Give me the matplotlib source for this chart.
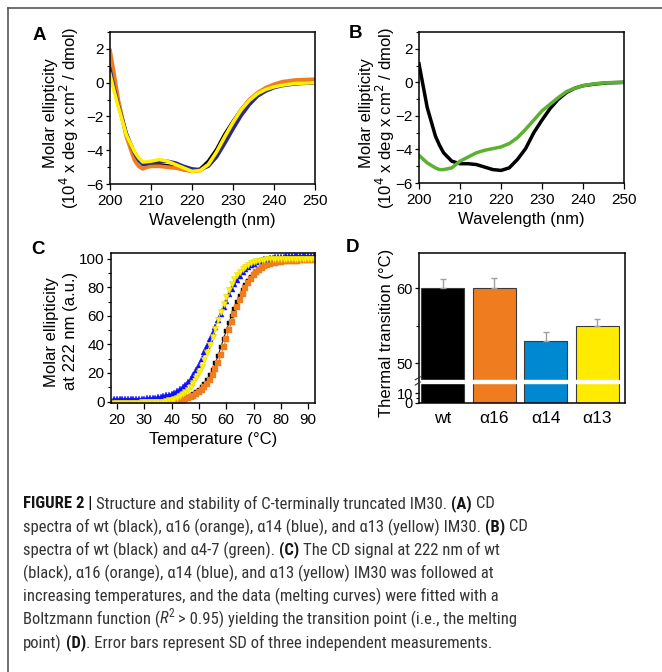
import numpy as np
import matplotlib
matplotlib.use('Agg')
import matplotlib.pyplot as plt
from matplotlib import font_manager
from matplotlib.font_manager import FontProperties
from matplotlib.ticker import MultipleLocator, FixedLocator

plt.rcParams['font.family'] = ['Liberation Sans', 'DejaVu Sans']

# ---- panel A: CD spectra ----
wl_a = [200, 201, 202, 204, 206, 207, 208, 209, 210, 212, 214, 216, 218, 220,
        222, 224, 226, 228, 230, 232, 234, 236, 238, 240, 242, 245, 250]
cd_wt = [1.0, 0.0, -1.2, -3.1, -4.2, -4.55, -4.75, -4.82, -4.85, -4.87, -4.92,
         -5.02, -5.15, -5.22, -5.12, -4.65, -3.95, -3.05, -2.3, -1.6, -1.05,
         -0.65, -0.38, -0.22, -0.13, -0.05, 0.0]
cd_a16 = [1.9, 0.5, -1.0, -3.2, -4.6, -4.95, -5.1, -5.0, -4.95, -4.95, -5.0,
          -5.05, -5.15, -5.25, -5.2, -4.85, -4.15, -3.25, -2.4, -1.6, -1.0,
          -0.6, -0.3, -0.1, 0.05, 0.15, 0.2]
cd_a14 = [0.8, -0.3, -1.3, -3.0, -4.2, -4.6, -4.85, -4.8, -4.75, -4.7, -4.65,
          -4.75, -4.95, -5.1, -5.15, -4.95, -4.4, -3.6, -2.75, -1.95, -1.3,
          -0.8, -0.5, -0.3, -0.18, -0.08, 0.0]
cd_a13 = [0.5, -0.5, -1.4, -3.1, -4.1, -4.45, -4.7, -4.68, -4.65, -4.55, -4.65,
          -4.85, -5.05, -5.25, -5.2, -4.85, -4.1, -3.2, -2.35, -1.6, -1.05,
          -0.65, -0.4, -0.25, -0.15, -0.05, 0.0]

# ---- panel B ----
wl_b = [200, 202, 204, 205, 206, 208, 210, 212, 214, 216, 218, 220, 222, 224,
        226, 228, 230, 232, 234, 236, 238, 240, 243, 246, 250]
cd_wt_b = [1.1, -1.5, -3.2, -3.75, -4.2, -4.7, -4.85, -4.85, -4.9, -5.05, -5.2,
           -5.25, -5.1, -4.6, -3.95, -3.0, -2.25, -1.55, -1.0, -0.6, -0.35,
           -0.2, -0.1, -0.03, 0.0]
cd_a47 = [-4.35, -4.8, -5.1, -5.2, -5.2, -5.1, -4.7, -4.45, -4.2, -4.05, -3.95,
          -3.85, -3.65, -3.3, -2.8, -2.25, -1.7, -1.3, -0.9, -0.55, -0.35,
          -0.2, -0.08, -0.02, 0.0]

# ---- panel C: melting curves (19..92 degC, 1 degC steps) ----
temp = list(range(19, 93))
melt_wt = [0, 0, 0, 0, 0, 0, 0, 0, 0, 0,
           0, 0, 0, 0, 0.1, 0.1, 0.1, 0.1, 0.2, 0.2,
           0.3, 0.4, 0.5, 0.8, 1.2, 1.7, 2.3, 3.1, 4, 5.2,
           6.5, 8.1, 10, 12.3, 15, 18.3, 22, 26.8, 32, 38,
           44, 49.5, 55, 60, 65, 69.8, 74, 78, 81.5, 84.4,
           87, 89.2, 91, 92.6, 94, 95.1, 96, 96.7, 97.3, 97.7,
           98, 98.3, 98.5, 98.7, 98.8, 98.9, 99, 99.05, 99.1, 99.15,
           99.2, 99.25, 99.3, 99.3]
melt_a16 = [0, 0, 0, 0, 0, 0, 0, 0, 0, 0,
            0, 0, 0, 0, 0, 0, 0, 0, 0, 0.05,
            0.1, 0.2, 0.3, 0.5, 0.8, 1.2, 1.6, 2.2, 3, 4,
            5, 6.4, 8, 10.1, 12.5, 15.3, 18.5, 22.5, 27, 32.3,
            38, 44, 50, 55.8, 61, 66.2, 71, 75.5, 79.5, 83,
            86, 88.4, 90.5, 92.1, 93.5, 94.6, 95.5, 96.2, 96.8, 97.2,
            97.6, 97.9, 98.1, 98.3, 98.4, 98.5, 98.6, 98.7, 98.8, 98.85,
            98.9, 98.95, 99, 99]
melt_a14 = [1.5, 1.5, 1.5, 1.55, 1.6, 1.65, 1.7, 1.75, 1.8, 1.9,
            2.0, 2.1, 2.2, 2.4, 2.6, 2.85, 3.1, 3.4, 3.8, 4.3,
            4.8, 5.5, 6.3, 7.3, 8.5, 9.9, 11.5, 13.6, 16, 18.8,
            22, 25.8, 30, 34.5, 39, 43.5, 48, 52.5, 57, 61.5,
            66, 70.6, 75, 78.6, 82, 85.2, 88, 90.4, 92.5, 94.1,
            95.5, 96.6, 97.5, 98.3, 99, 99.5, 100, 100.4, 100.8, 101,
            101.2, 101.4, 101.5, 101.6, 101.7, 101.75, 101.8, 101.85, 101.9, 101.95,
            102, 102, 102, 102]
melt_a13 = [-0.8, -0.8, -0.8, -0.8, -0.8, -0.75, -0.7, -0.7, -0.7, -0.65,
            -0.6, -0.55, -0.5, -0.45, -0.4, -0.3, -0.2, -0.1, 0, 0.4,
            0.8, 1.4, 2, 2.8, 3.8, 5, 6.5, 8.3, 10.5, 13.3,
            16.5, 20.3, 24.5, 29, 34, 39.5, 45, 51, 57, 62.7,
            68, 73.2, 78, 82, 85.5, 88.5, 91, 93, 94.5, 95.8,
            96.8, 97.6, 98.2, 98.6, 99, 99.3, 99.5, 99.7, 99.8, 99.85,
            99.9, 99.95, 100, 100, 100, 100, 100, 100, 100, 100,
            100, 100, 100, 100]

# ---- panel D: transition temperatures ----
constructs = ['wt', 'α16', 'α14', 'α13']
tm = [60.0, 60.0, 53.0, 55.0]
tm_sd = [1.2, 1.3, 1.1, 0.9]

BLACK = '#000000'
ORANGE = '#EF7D1F'
NAVY = '#2E2A8C'
YELLOW = '#FFF200'
GREEN = '#5DB131'
BLUE_C = '#1010FF'
BLUE_D = '#0088D1'
YELLOW_D = '#FFEB00'

fig = plt.figure(figsize=(6.62, 6.72), dpi=100)
W, H = 662.0, 672.0
renderer = fig.canvas.get_renderer()


def ax_at(left, top, right, bottom):
    return fig.add_axes([left / W, 1 - bottom / H, (right - left) / W, (bottom - top) / H])


def style_axes(ax):
    for s in ax.spines.values():
        s.set_linewidth(1.1)
    ax.tick_params(labelsize=11, width=0.9)
    ax.tick_params(axis='x', length=4, pad=3.5)
    ax.tick_params(axis='y', length=3, pad=1.5)
    ax.tick_params(which='minor', length=2, width=0.8)


def ylabel_px(ax, left_px, lines):
    # lines: (text, x in pixels, vertical position as axes fraction)
    for s, xp, yf in lines:
        x_ax = (xp - left_px) / (ax.get_position().width * W)
        ax.text(x_ax, yf, s, transform=ax.transAxes, rotation=90,
                ha='center', va='center', fontsize=12)


def cd_axes(ax):
    ax.set_xlim(200, 250)
    ax.set_ylim(-6, 3)
    ax.xaxis.set_major_locator(MultipleLocator(10))
    ax.yaxis.set_major_locator(FixedLocator([-6, -4, -2, 0, 2]))
    ax.yaxis.set_minor_locator(MultipleLocator(1))
    ax.set_xlabel('Wavelength (nm)', fontsize=12, labelpad=3)
    style_axes(ax)


# A
axA = ax_at(110, 32, 315, 184)
axA.plot(wl_a, cd_wt, color=BLACK, lw=2.5)
axA.plot(wl_a, cd_a16, color=ORANGE, lw=2.8)
axA.plot(wl_a, cd_a14, color=NAVY, lw=2.5)
axA.plot(wl_a, cd_a13, color=YELLOW, lw=2.5)
cd_axes(axA)
ylabel_px(axA, 110, [('Molar ellipticity', 50.5, 0.465),
                     ('(10$^4$ x deg x cm$^2$ / dmol)', 69, 0.43)])

# B
axB = ax_at(419, 32, 624, 183)
axB.plot(wl_b, cd_wt_b, color=BLACK, lw=2.5)
axB.plot(wl_b, cd_a47, color=GREEN, lw=2.5)
cd_axes(axB)
ylabel_px(axB, 419, [('Molar ellipticity', 366.5, 0.465),
                     ('(10$^4$ x deg x cm$^2$ / dmol)', 385, 0.43)])

# C
axC = ax_at(111, 253, 315, 403)
axC.plot(temp, melt_wt, color=BLACK, lw=0.7, marker='s', ms=3.4, mec=BLACK, mew=0.3)
axC.plot(temp, melt_a16, color=ORANGE, lw=0.7, marker='s', ms=3.8, mec=ORANGE, mew=0.3)
axC.plot(temp, melt_a14, color=BLUE_C, lw=0.7, marker='^', ms=4.0, mec=BLUE_C, mew=0.3)
axC.plot(temp, melt_a13, color=YELLOW, lw=0.7, marker='v', ms=4.0, mec='#E8D800', mew=0.4)
axC.set_xlim(17.8, 92.5)
axC.set_ylim(-1, 104)
axC.xaxis.set_major_locator(MultipleLocator(10))
axC.yaxis.set_major_locator(MultipleLocator(20))
axC.yaxis.set_minor_locator(MultipleLocator(10))
axC.set_xlabel('Temperature (°C)', fontsize=12, labelpad=3)
style_axes(axC)
ylabel_px(axC, 111, [('Molar ellipticity', 51.5, 0.475),
                     ('at 222 nm (a.u.)', 70, 0.48)])

# D with broken y axis (piecewise linear scale)
brk_v = [-100, 0, 20, 47.7, 200]
brk_s = [-100, 0, 20, 23, 23 + 152.3 * 7.6]


def fwd(v):
    return np.interp(v, brk_v, brk_s)


def inv(s):
    return np.interp(s, brk_s, brk_v)


axD = ax_at(419, 253, 625, 403)
axD.set_yscale('function', functions=(fwd, inv))
xpos = np.arange(len(constructs))
axD.bar(xpos, tm, width=0.83, color=[BLACK, ORANGE, BLUE_D, YELLOW_D],
        edgecolor='#3a3a3a', linewidth=0.8, zorder=1)
axD.errorbar(xpos, tm, yerr=[[0] * len(tm), tm_sd], fmt='none',
             ecolor='#a0a0a0', elinewidth=1.0, capsize=2, capthick=1.0, zorder=1.5)
axD.axhspan(20.6, 47.2, color='white', zorder=2)
axD.set_xlim(-0.46, 3.54)
axD.set_ylim(0, 64.7)
axD.yaxis.set_major_locator(FixedLocator([0, 10, 50, 60]))
axD.yaxis.set_minor_locator(FixedLocator([5, 55]))
axD.yaxis.set_minor_formatter(plt.NullFormatter())
axD.set_xticks(xpos)
axD.set_xticklabels(constructs)
style_axes(axD)
axD.tick_params(axis='y', labelsize=10.5)
axD.tick_params(axis='x', length=0, pad=6, labelsize=12.5)
ylabel_px(axD, 419, [('Thermal transition (°C)', 387, 0.47)])
for yy in (0.165, 0.13):
    axD.plot([-0.018, 0.006], [yy - 0.01, yy + 0.01], transform=axD.transAxes,
             color='#333333', lw=0.8, clip_on=False, zorder=5)

# panel letters
for lab, (px, py) in zip('ABCD', [(39, 35), (356, 34), (38, 249), (353, 248)]):
    fig.text(px / W, 1 - py / H, lab, fontsize=13.5, fontweight='bold',
             ha='center', va='center')

# outer frame
fig.add_artist(plt.Line2D([8 / W, 8 / W], [0, 1 - 8 / H], color='#555555', lw=1.2))
fig.add_artist(plt.Line2D([8 / W, 1], [1 - 8 / H, 1 - 8 / H], color='#555555', lw=1.2))

# ---- caption ----
caption = [
    [('FIGURE 2 |', 'bold'), (' Structure and stability of C-terminally truncated IM30. ', 'normal'),
     ('(A)', 'bold'), (' CD', 'normal')],
    [('spectra of wt (black), α16 (orange), α14 (blue), and α13 (yellow) IM30. ', 'normal'),
     ('(B)', 'bold'), (' CD', 'normal')],
    [('spectra of wt (black) and α4-7 (green). ', 'normal'), ('(C)', 'bold'),
     (' The CD signal at 222 nm of wt', 'normal')],
    [('(black), α16 (orange), α14 (blue), and α13 (yellow) IM30 was followed at', 'normal')],
    [('increasing temperatures, and the data (melting curves) were fitted with a', 'normal')],
    [('Boltzmann function (', 'normal'), ('R', 'italic'), ('2', 'sup'),
     (' > 0.95) yielding the transition point (i.e., the melting', 'normal')],
    [('point) ', 'normal'), ('(D)', 'bold'),
     ('. Error bars represent SD of three independent measurements.', 'normal')],
]
line2_plain = ''.join(s for s, k in caption[1])
TARGET_W = 504.0   # pixel width of caption line 2 in the reference
EM_SIZE = 11.8     # point size that gives the reference cap height


def text_width(s, fp):
    t1 = fig.text(0, 0, '|' + s + '|', fontproperties=fp)
    t2 = fig.text(0, 0, '||', fontproperties=fp)
    w = t1.get_window_extent(renderer).width - t2.get_window_extent(renderer).width
    t1.remove()
    t2.remove()
    return w


def weight_num(w):
    if isinstance(w, str):
        return font_manager.weight_dict.get(w, 400)
    return int(w)


prefixes = ('Noto Sans', 'Roboto', 'Open Sans', 'DejaVu Sans', 'Liberation Sans', 'Inter')
banned = ('CJK', 'Mono', 'Math', 'Symbol', 'Emoji', 'Serif', 'Display', 'Arabic',
          'Hebrew', 'Thai', 'Devanagari', 'Armenian', 'Georgian', 'Ethiopic')
entries = [e for e in font_manager.fontManager.ttflist
           if e.name.startswith(prefixes) and not any(b in e.name for b in banned)
           and e.fname.lower().endswith(('.ttf', '.otf'))]
best = None
for e in entries:
    if e.style != 'normal' or weight_num(e.weight) not in (300, 400):
        continue
    try:
        fp = FontProperties(fname=e.fname, size=EM_SIZE)
        w = text_width(line2_plain, fp)
    except Exception:
        continue
    score = abs(w - TARGET_W) / TARGET_W - (0.02 if weight_num(e.weight) == 300 else 0)
    if best is None or score < best[0]:
        best = (score, e, w)

if best is not None:
    reg = best[1]
    reg_file = reg.fname


    def sibling(style, wmin):
        for e in entries:
            if (e.name == reg.name and e.stretch == reg.stretch and e.style == style
                    and weight_num(e.weight) >= wmin and weight_num(e.weight) <= wmin + 100):
                return e.fname
        return None

    bold_file = sibling('normal', 700) or sibling('normal', 600) or reg_file
    ital_file = (sibling('italic', weight_num(reg.weight)) or sibling('oblique', weight_num(reg.weight))
                 or sibling('italic', 400) or reg_file)
    files = {'normal': reg_file, 'bold': bold_file, 'italic': ital_file, 'sup': reg_file}
    cap_size = EM_SIZE * TARGET_W / best[2]
    cap_size = max(min(cap_size, EM_SIZE * 1.12), EM_SIZE * 0.88)
else:
    files = None
    cap_size = 10.5


def props(kind):
    size = cap_size * (0.7 if kind == 'sup' else 1.0)
    if files is None:
        return FontProperties(family='Liberation Sans', size=size,
                              weight='bold' if kind == 'bold' else 'normal',
                              style='italic' if kind == 'italic' else 'normal')
    return FontProperties(fname=files[kind], size=size)


line_y = [502, 525, 548, 571, 594, 617, 641]
for parts, ly in zip(caption, line_y):
    x = 23.0
    for s, kind in parts:
        fp = props(kind)
        dy = 5 if kind == 'sup' else 0
        lead = len(s) - len(s.lstrip(' '))
        offset = text_width(' ' * lead, fp) if lead else 0
        fig.text((x + offset) / W, 1 - (ly - dy) / H, s.strip(' '), fontproperties=fp,
                 color='#151515' if kind == 'bold' else '#333333',
                 ha='left', va='center_baseline')
        x += text_width(s, fp)

fig.savefig('out.png', dpi=100)
